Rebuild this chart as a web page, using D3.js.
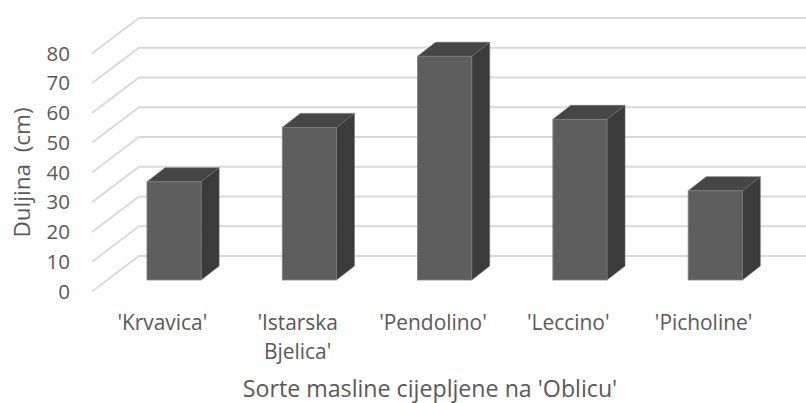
<!DOCTYPE html>
<html><head><meta charset="utf-8">
<script src="https://cdn.jsdelivr.net/npm/d3@7"></script>
<style>
html,body{margin:0;padding:0;background:#fff}
svg{display:block}
text{font-family:"Open Sans",sans-serif;fill:#595959}
</style></head><body>
<svg id="c" width="806" height="403"></svg>
<script>
const categories = ["'Krvavica'", "'Istarska Bjelica'", "'Pendolino'", "'Leccino'", "'Picholine'"];
const categoryLines = [["'Krvavica'"], ["'Istarska", "Bjelica'"], ["'Pendolino'"], ["'Leccino'"], ["'Picholine'"]];
const values = [33, 51.3, 75.2, 54, 30];
const yTicks = [0, 10, 20, 30, 40, 50, 60, 70, 80];
const yTitle = "Duljina\u00a0\u00a0(cm)";
const xTitle = "Sorte masline cijepljene na 'Oblicu'";

const svg = d3.select("#c");
const W = 806;
const wallDx = 47, wallDy = -35.5;
const barDx = 18, barDy = -14;
const barBase = 280;
const y = d3.scaleLinear().domain([0, 80]).range([291.5, 53.5]);
const x = d3.scaleBand().domain(categories).range([106.4, 782.9]).paddingInner(0.6).paddingOuter(0.3);
const barH = v => y(0) - y(v);

const grid = svg.append("g").attr("fill", "none").attr("stroke", "#d9d9d9").attr("stroke-width", 1.8);
grid.selectAll("path").data(yTicks).join("path")
  .attr("d", v => `M92,${y(v)}L${92 + wallDx},${y(v) + wallDy}H${W}`);

const yAxis = svg.append("g").attr("transform", "translate(70,0)")
  .call(d3.axisLeft(y).tickValues(yTicks).tickSize(0).tickPadding(0));
yAxis.select(".domain").remove();
yAxis.selectAll("text").attr("font-size", 20.5).attr("font-family", '"Open Sans",sans-serif').style("fill", "#595959");

const bars = svg.append("g").selectAll("g").data(categories).join("g");
bars.append("path").attr("fill", "#3b3b3b").attr("stroke", "#6a6a6a").attr("stroke-width", .6)
  .attr("d", (c, i) => {
    const r = x(c) + x.bandwidth(), t = barBase - barH(values[i]);
    return `M${r},${t}l${barDx},${barDy}V${barBase + barDy}l${-barDx},${-barDy}Z`;
  });
bars.append("path").attr("fill", "#464646").attr("stroke", "#6a6a6a").attr("stroke-width", .6)
  .attr("d", (c, i) => {
    const l = x(c), r = l + x.bandwidth(), t = barBase - barH(values[i]);
    return `M${l},${t}l${barDx},${barDy}H${r + barDx}L${r},${t}Z`;
  });
bars.append("rect").attr("fill", "#5e5e5e").attr("stroke", "#7d7d7d").attr("stroke-width", .8)
  .attr("x", c => x(c)).attr("width", x.bandwidth())
  .attr("y", (c, i) => barBase - barH(values[i])).attr("height", (c, i) => barH(values[i]));

const labels = svg.append("g").selectAll("text").data(categories).join("text")
  .attr("text-anchor", "middle").attr("font-size", 20.9);
labels.each(function (c, i) {
  d3.select(this).selectAll("tspan").data(categoryLines[i]).join("tspan")
    .attr("x", x(c) + x.bandwidth() / 2 - 11.7)
    .attr("y", (d, k) => 329.5 + k * 29.5)
    .text(d => d);
});

svg.append("text").attr("x", 430).attr("y", 397).attr("text-anchor", "middle")
  .attr("font-size", 23.2).text(xTitle);
svg.append("text").attr("transform", "translate(30,172.5) rotate(-90)").attr("text-anchor", "middle")
  .attr("font-size", 22.5).text(yTitle);
</script>
</body></html>
